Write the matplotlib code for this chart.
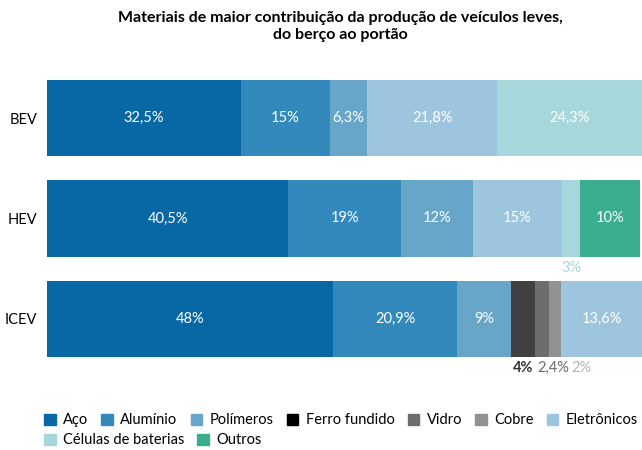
import matplotlib
matplotlib.use('Agg')
import matplotlib.pyplot as plt
import matplotlib.patches as mpatches

plt.rcParams['font.family'] = ['Lato', 'DejaVu Sans']

vehicles = ['BEV', 'HEV', 'ICEV']
materials = ['Aço', 'Alumínio', 'Polímeros', 'Ferro fundido', 'Vidro', 'Cobre',
             'Eletrônicos', 'Células de baterias', 'Outros']
colors = ['#0868a6', '#3389bb', '#67a6c9', '#414143', '#6d6d70', '#929295',
          '#9ec5de', '#a6d7da', '#3aae8f']
legend_colors = ['#0868a6', '#3389bb', '#67a6c9', '#000000', '#6d6d70', '#929295',
                 '#9ec5de', '#a6d7da', '#3aae8f']

# share (%) per material, order = vehicles
aco = [32.5, 40.5, 48]
aluminio = [15, 19, 20.9]
polimeros = [6.3, 12, 9]
ferro = [0, 0, 4]
vidro = [0, 0, 2.4]
cobre = [0, 0, 2]
eletronicos = [21.8, 15, 13.6]
celulas = [24.3, 3, 0]
outros = [0, 10, 0]
values = [aco, aluminio, polimeros, ferro, vidro, cobre, eletronicos, celulas, outros]

# labels drawn inside the bars (None = label shown below or not shown)
inside = [
    ['32,5%', '15%', '6,3%', None, None, None, '21,8%', '24,3%', None],
    ['40,5%', '19%', '12%', None, None, None, '15%', None, '10%'],
    ['48%', '20,9%', '9%', None, None, None, '13,6%', None, None],
]
# small labels below bars: (vehicle idx, material idx, text, color, bold)
below = [
    (1, 7, '3%', '#a6d7da', False),
    (2, 3, '4%', '#333333', True),
    (2, 4, '2,4%', '#6d6d70', False),
    (2, 5, '2%', '#b5b5b8', False),
]
# horizontal nudge (points) so the small labels don't collide
below_dx = [0, 0, 8, 19]

fig = plt.figure(figsize=(6.42, 4.5), dpi=100)
ax = fig.add_axes([47 / 642, 1 - 357 / 450, 1 - 47 / 642, 277 / 450])

bar_h = 0.76
lefts = [0.0, 0.0, 0.0]
starts = {}
for m, vals in enumerate(values):
    for v, val in enumerate(vals):
        starts[(v, m)] = lefts[v]
    ax.barh(range(3), vals, left=lefts, height=bar_h, color=colors[m], linewidth=0)
    for v, val in enumerate(vals):
        if val > 0 and inside[v][m]:
            ax.text(lefts[v] + val / 2, v, inside[v][m], ha='center', va='center',
                    color='white', fontsize=10.5)
    lefts = [l + x for l, x in zip(lefts, vals)]

for (v, m, txt, col, bold), dx in zip(below, below_dx):
    x = starts[(v, m)] + values[m][v] / 2
    ax.annotate(txt, (x, v + bar_h / 2), xytext=(dx, -3), textcoords='offset points',
                ha='center', va='top', color=col, fontsize=10.5,
                fontweight='bold' if bold else 'normal')

ax.set_xlim(0, 99.9)
ax.set_ylim(2 + bar_h / 2, -bar_h / 2)
ax.set_yticks(range(3))
ax.set_yticklabels(vehicles, fontsize=10.5)
ax.tick_params(axis='y', length=0, pad=7)
ax.set_xticks([])
for s in ax.spines.values():
    s.set_visible(False)

fig.text(0.53, 0.975, 'Materiais de maior contribuição da produção de veículos leves,\ndo berço ao portão',
         ha='center', va='top', fontsize=11.5, fontweight='bold', linespacing=1.25)

handles = [mpatches.Patch(color=c, label=l) for c, l in zip(legend_colors, materials)]
fig.legend(handles=handles[:7], loc='lower left', bbox_to_anchor=(38 / 642, 17 / 450),
           ncol=7, frameon=False, fontsize=10.5, handlelength=0.8, handleheight=0.8,
           handletextpad=0.5, columnspacing=0.9, borderaxespad=0)
fig.legend(handles=handles[7:], loc='lower left', bbox_to_anchor=(38 / 642, -3 / 450),
           ncol=2, frameon=False, fontsize=10.5, handlelength=0.8, handleheight=0.8,
           handletextpad=0.5, columnspacing=0.9, borderaxespad=0)

fig.savefig('out.png', dpi=100)
